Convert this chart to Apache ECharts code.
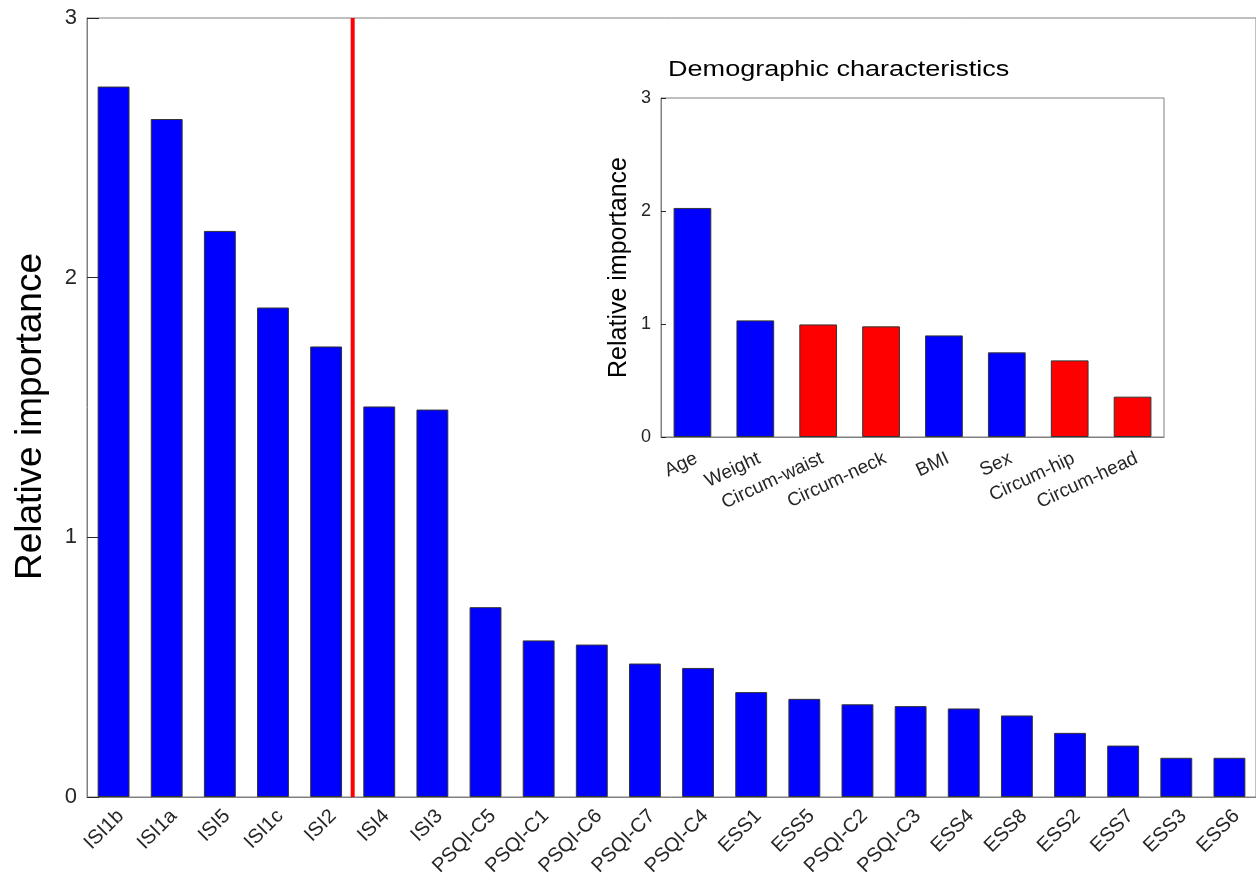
<!DOCTYPE html>
<html>
<head>
<meta charset="utf-8">
<script src="https://cdn.jsdelivr.net/npm/echarts@6/dist/echarts.min.js"></script>
<style>
html,body{margin:0;padding:0;background:#fff;}
#chart{width:1256px;height:887px;}
</style>
</head>
<body>
<div id="chart"></div>
<script>
// Main chart data
const mainCategories = ['ISI1b','ISI1a','ISI5','ISI1c','ISI2','ISI4','ISI3','PSQI-C5','PSQI-C1','PSQI-C6','PSQI-C7','PSQI-C4','ESS1','ESS5','PSQI-C2','PSQI-C3','ESS4','ESS8','ESS2','ESS7','ESS3','ESS6'];
const mainValues = [2.736,2.611,2.180,1.885,1.735,1.504,1.492,0.731,0.603,0.587,0.514,0.497,0.404,0.378,0.357,0.350,0.341,0.314,0.247,0.198,0.151,0.151];
const cutoffAfter = 'ISI2';

// Inset data
const insetTitle = 'Demographic characteristics';
const demoCategories = ['Age','Weight','Circum-waist','Circum-neck','BMI','Sex','Circum-hip','Circum-head'];
const demoValues = [2.027,1.032,0.996,0.979,0.899,0.749,0.678,0.357];

const yTicks = [0,1,2,3];

const FONT = 'Liberation Sans, Arial, Helvetica, sans-serif';
const AXIS_GREY = '#808080';
const TXT = '#262626';
const BLUE = '#0000ff';
const RED = '#ff0000';

const cutX = mainCategories.indexOf(cutoffAfter) + 1;

const chart = echarts.init(document.getElementById('chart'), null, {renderer:'canvas'});
chart.setOption({
  backgroundColor:'#fff',
  animation:false,
  textStyle:{fontFamily:FONT},
  graphic:[{
    type:'text', left:668, top:59, z:20, scaleX:1.23,
    style:{text:insetTitle, font:'22px ' + FONT, fill:'#000'}
  }],
  grid:[
    {left:87, top:18, width:1173, height:779, show:true, borderColor:AXIS_GREY, borderWidth:1, backgroundColor:'#fff'},
    {left:661, top:98, width:503, height:339, show:true, borderColor:AXIS_GREY, borderWidth:1, backgroundColor:'#fff', z:10}
  ],
  xAxis:[
    {type:'category', gridIndex:0, data:mainCategories,
     axisLine:{lineStyle:{color:AXIS_GREY,width:1}}, axisTick:{show:false},
     axisLabel:{interval:0, rotate:45, fontSize:20, color:TXT, margin:9, verticalAlign:'top', fontFamily:FONT}},
    {type:'value', gridIndex:0, min:0, max:mainCategories.length, show:false},
    {type:'category', gridIndex:1, data:demoCategories, z:10,
     axisLine:{lineStyle:{color:AXIS_GREY,width:1}}, axisTick:{show:false},
     axisLabel:{interval:0, rotate:25, fontSize:19, color:TXT, margin:12, verticalAlign:'top', fontFamily:FONT}}
  ],
  yAxis:[
    {type:'value', gridIndex:0, min:yTicks[0], max:yTicks[yTicks.length-1], interval:1,
     name:'Relative importance', nameLocation:'middle', nameGap:38,
     nameTextStyle:{fontSize:37, color:'#000', fontFamily:FONT, padding:[0,18,0,0]},
     axisLine:{show:true,lineStyle:{color:AXIS_GREY}},
     axisTick:{show:true, inside:true, length:12, lineStyle:{color:TXT}},
     splitLine:{show:false},
     axisLabel:{fontSize:22, color:TXT, margin:10, fontFamily:FONT}},
    {type:'value', gridIndex:0, min:0, max:3, show:false},
    {type:'value', gridIndex:1, min:yTicks[0], max:yTicks[yTicks.length-1], interval:1, z:10,
     name:'Relative importance', nameLocation:'middle', nameGap:29,
     nameTextStyle:{fontSize:25, color:'#000', fontFamily:FONT},
     axisLine:{show:true,lineStyle:{color:AXIS_GREY}},
     axisTick:{show:true, inside:true, length:5, lineStyle:{color:TXT}},
     splitLine:{show:false},
     axisLabel:{fontSize:18, color:TXT, margin:10, fontFamily:FONT}}
  ],
  series:[
    {type:'bar', xAxisIndex:0, yAxisIndex:0, data:mainValues, barWidth:'60%',
     itemStyle:{color:BLUE, borderColor:'#333', borderWidth:1}},
    {type:'line', xAxisIndex:1, yAxisIndex:1, data:[[cutX,0],[cutX,3]], symbol:'none',
     lineStyle:{color:RED, width:4}, z:5},
    {type:'bar', xAxisIndex:2, yAxisIndex:2, z:11, barWidth:'60%',
     data:demoValues.map((v,i)=>({value:v, itemStyle:{color: demoCategories[i].startsWith('Circum') ? RED : BLUE}})),
     itemStyle:{borderColor:'#333', borderWidth:1}}
  ]
});
</script>
</body>
</html>
